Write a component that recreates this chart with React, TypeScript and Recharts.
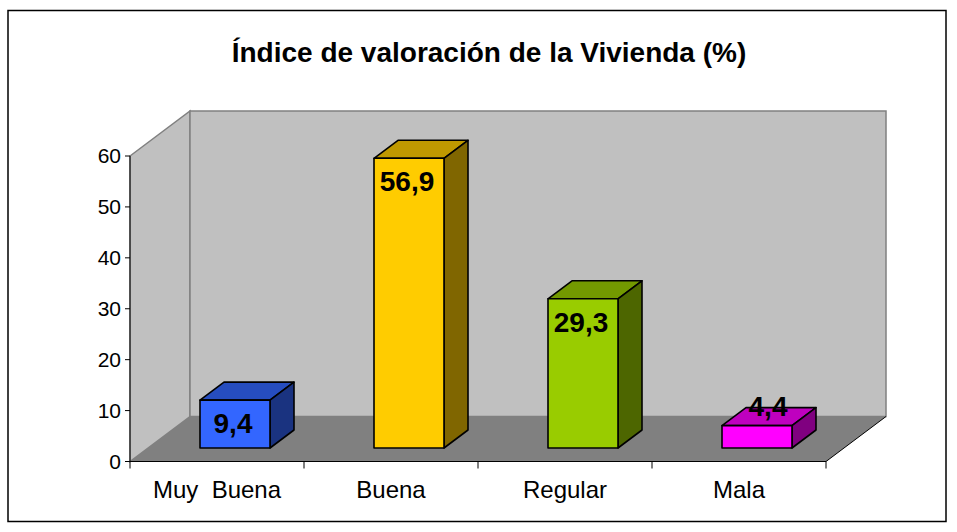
import React from 'react';
import { BarChart, Bar, XAxis, YAxis, CartesianGrid, ReferenceArea, LabelList, Cell } from 'recharts';

const categories = ['Muy  Buena', 'Buena', 'Regular', 'Mala'];
const values = [9.4, 56.9, 29.3, 4.4];
const valueLabels = ['9,4', '56,9', '29,3', '4,4'];
const yTicks = [0, 10, 20, 30, 40, 50, 60];
const frontColors = ['#3366FF', '#FFCC00', '#99CC00', '#FF00FF'];
const topColors = ['#264DBF', '#BF9900', '#739900', '#BF00BF'];
const sideColors = ['#1A3380', '#806600', '#4D6600', '#800080'];

const titleText = 'Índice de valoración de la Vivienda (%)';
const FONT = '"Liberation Sans", Arial, sans-serif';
const WALL_DX = 60;
const WALL_DY = 45;
const BAR_SHIFT_X = 18;
const BAR_SHIFT_Y = 13.5;
const BAR_DX = 24;
const BAR_DY = 18;

const data = categories.map((name, i) => ({ name, value: values[i], label: valueLabels[i] }));

const pts = (a: number[][]) => a.map((p) => p.join(',')).join(' ');

function Walls(props: any) {
  const { x, y, width, height } = props;
  const b = y + height;
  const r = x + width;
  return (
    <g>
      <polygon points={pts([[x, y], [x + WALL_DX, y - WALL_DY], [x + WALL_DX, b - WALL_DY], [x, b]])} fill="#C0C0C0" stroke="#808080" strokeWidth={1.5} />
      <polygon points={pts([[x + WALL_DX, y - WALL_DY], [r + WALL_DX, y - WALL_DY], [r + WALL_DX, b - WALL_DY], [x + WALL_DX, b - WALL_DY]])} fill="#C0C0C0" stroke="#808080" strokeWidth={1.5} />
      <polygon points={pts([[x, b], [x + WALL_DX, b - WALL_DY], [r + WALL_DX, b - WALL_DY], [r, b]])} fill="#808080" />
      <line x1={r} y1={b} x2={r + WALL_DX} y2={b - WALL_DY} stroke="#000" strokeWidth={1} />
    </g>
  );
}

function gridLine(props: any) {
  const { x1, x2, y1, index } = props;
  if (index === undefined) return null;
  return <GridPath x1={x1} x2={x2} y={y1} />;
}

function GridPath({ x1, x2, y }: { x1: number; x2: number; y: number }) {
  if (y < 160 || y > 455) return null;
  return (
    <polyline
      points={pts([[x1, y], [x1 + WALL_DX, y - WALL_DY], [x2 + WALL_DX, y - WALL_DY]])}
      fill="none"
      stroke="#000"
      strokeWidth={1}
    />
  );
}

function Box3D(props: any) {
  const { x, y, width, height, index } = props;
  const l = x + BAR_SHIFT_X;
  const r = l + width;
  const t = y - BAR_SHIFT_Y;
  const b = t + height;
  const common = { stroke: '#000', strokeWidth: 1.6, strokeLinejoin: 'round' as const };
  return (
    <g>
      <polygon points={pts([[l, t], [l + BAR_DX, t - BAR_DY], [r + BAR_DX, t - BAR_DY], [r, t]])} fill={topColors[index]} {...common} />
      <polygon points={pts([[r, t], [r + BAR_DX, t - BAR_DY], [r + BAR_DX, b - BAR_DY], [r, b]])} fill={sideColors[index]} {...common} />
      <rect x={l} y={t} width={width} height={height} fill={frontColors[index]} {...common} />
    </g>
  );
}

function ValueLabel(props: any) {
  const { x, y, width, height, value } = props;
  const small = height < 30;
  const cx = x + BAR_SHIFT_X + width / 2 + (small ? 11 : -2);
  const cy = y - BAR_SHIFT_Y + (small ? -19 : 23);
  return (
    <text x={cx} y={cy} dy="0.35em" textAnchor="middle" fontFamily={FONT} fontSize={28} fontWeight="bold" fill="#000">
      {value}
    </text>
  );
}

function CategoryTick(props: any) {
  const { x, y, payload, index } = props;
  const half = 87;
  const axisY = y;
  return (
    <g>
      <line x1={x - half} x2={x - half} y1={axisY - 8} y2={axisY - 1} stroke="#000" />
      {index === categories.length - 1 && <line x1={x + half} x2={x + half} y1={axisY - 8} y2={axisY - 1} stroke="#000" />}
      <text x={x} y={axisY + 28} textAnchor="middle" fontFamily={FONT} fontSize={24} fill="#000" style={{ whiteSpace: 'pre' }}>
        {payload.value}
      </text>
    </g>
  );
}

export default function App() {
  return (
    <div style={{ position: 'absolute', left: 0, top: 0, width: 957, height: 532, background: '#fff' }}>
      <BarChart
        width={957}
        height={532}
        data={data}
        margin={{ top: 156, right: 131, bottom: 30.5, left: 70 }}
        barSize={70}
      >
        <rect x={8} y={10.5} width={938} height={511} fill="none" stroke="#000" strokeWidth={1.5} />
        <text x={489} y={62} textAnchor="middle" fontFamily={FONT} fontSize={28} fontWeight="bold" fill="#000">
          {titleText}
        </text>
        <ReferenceArea yAxisId={0} xAxisId={0} y1={0} y2={60} shape={<Walls />} ifOverflow="visible" />
        <CartesianGrid horizontal={gridLine} vertical={false} syncWithTicks />
        <XAxis
          dataKey="name"
          height={40}
          axisLine={{ stroke: '#000', strokeWidth: 1 }}
          tickLine={false}
          interval={0}
          tick={<CategoryTick />}
        />
        <YAxis
          domain={[0, 60]}
          ticks={yTicks}
          width={60}
          axisLine={{ stroke: '#000', strokeWidth: 1 }}
          tickLine={{ stroke: '#000' }}
          tick={{ fill: '#000', fontFamily: FONT, fontSize: 21 }}
          tickSize={5}
          tickMargin={4}
          interval={0}
        />
        <Bar dataKey="value" shape={<Box3D />} isAnimationActive={false}>
          {data.map((d) => (
            <Cell key={d.name} />
          ))}
          <LabelList dataKey="label" content={<ValueLabel />} />
        </Bar>
      </BarChart>
    </div>
  );
}
